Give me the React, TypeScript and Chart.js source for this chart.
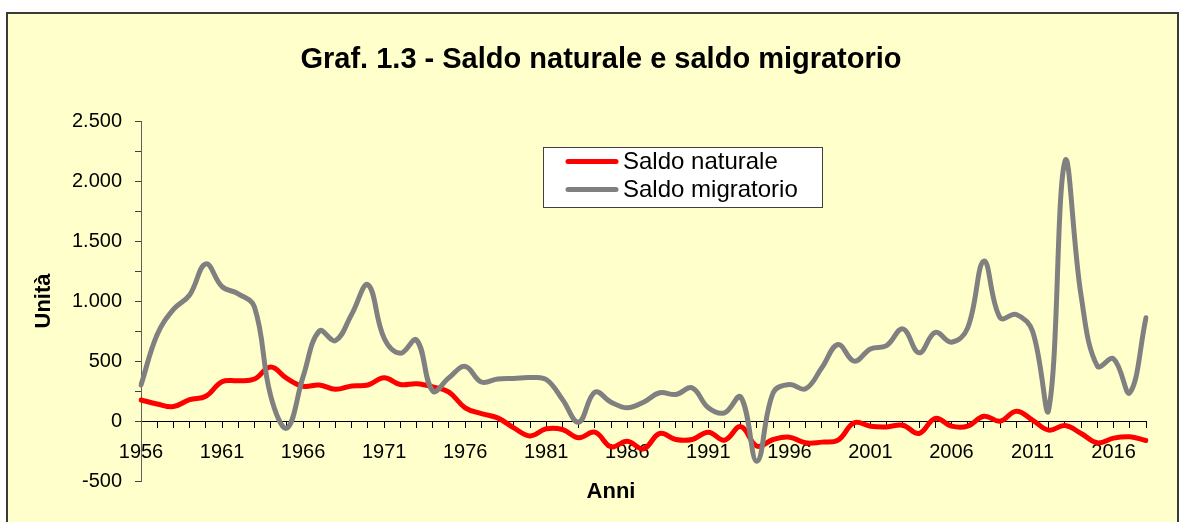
import React, { useEffect, useRef } from 'react';
import { Chart, registerables } from 'chart.js';

Chart.register(...registerables);

const FONT = 'Arial, "Liberation Sans", Helvetica, sans-serif';

const chartTitle = 'Graf. 1.3 - Saldo naturale e saldo migratorio';
const yAxisTitle = 'Unità';
const xAxisTitle = 'Anni';
const seriesNames = ['Saldo naturale', 'Saldo migratorio'];

const years = [
  '1956', '1957', '1958', '1959', '1960', '1961', '1962', '1963', '1964', '1965',
  '1966', '1967', '1968', '1969', '1970', '1971', '1972', '1973', '1974', '1975',
  '1976', '1977', '1978', '1979', '1980', '1981', '1982', '1983', '1984', '1985',
  '1986', '1987', '1988', '1989', '1990', '1991', '1992', '1993', '1994', '1995',
  '1996', '1997', '1998', '1999', '2000', '2001', '2002', '2003', '2004', '2005',
  '2006', '2007', '2008', '2009', '2010', '2011', '2012', '2013', '2014', '2015',
  '2016', '2017', '2018',
];

const saldoNaturale = [
  175, 142, 120, 178, 206, 328, 335, 350, 450, 355,
  290, 300, 264, 292, 300, 360, 304, 310, 285, 240,
  110, 62, 26, -57, -124, -65, -71, -140, -93, -215,
  -168, -232, -104, -154, -154, -93, -160, -47, -210, -154,
  -135, -182, -176, -160, -15, -43, -49, -35, -104, 22,
  -43, -43, 40, -1, 82, 7, -76, -38, -104, -182,
  -143, -132, -162,
];

const saldoMigratorio = [
  300, 720, 930, 1050, 1310, 1120, 1060, 950, 210, -60,
  370, 750, 670, 890, 1135, 690, 565, 675, 250, 360,
  455, 325, 350, 355, 362, 346, 179, -10, 240, 157,
  110, 157, 235, 221, 276, 110, 68, 200, -335, 235,
  304, 268, 443, 637, 499, 601, 629, 768, 568, 738,
  657, 776, 1332, 860, 888, 749, 96, 2165, 1040, 457,
  518, 235, 860,
];

const fmtIt = (v: number) => {
  const s = Math.abs(v).toString().replace(/\B(?=(\d{3})+(?!\d))/g, '.');
  return (v < 0 ? '-' : '') + s;
};

const framePlugin = {
  id: 'framePlugin',
  beforeDraw(chart: any) {
    const ctx = chart.ctx as CanvasRenderingContext2D;
    ctx.save();
    ctx.fillStyle = '#FFFFFF';
    ctx.fillRect(0, 0, chart.width, chart.height);
    ctx.fillStyle = '#FFFFCC';
    ctx.fillRect(7, 13, 1171, 530);
    ctx.strokeStyle = '#3A3A3A';
    ctx.lineWidth = 2;
    ctx.strokeRect(7, 13, 1171, 530);
    ctx.restore();
  },
};

const overlayPlugin = {
  id: 'overlayPlugin',
  afterDraw(chart: any) {
    const ctx = chart.ctx as CanvasRenderingContext2D;
    ctx.save();
    // title
    ctx.fillStyle = '#000';
    ctx.font = `bold 29px ${FONT}`;
    ctx.textAlign = 'center';
    ctx.textBaseline = 'middle';
    ctx.fillText(chartTitle, 601, 60);
    // x axis title
    ctx.font = `bold 22px ${FONT}`;
    ctx.fillText(xAxisTitle, 611, 492);
    // legend
    ctx.fillStyle = '#FFFFFF';
    ctx.fillRect(543, 147, 280, 61);
    ctx.strokeStyle = '#404040';
    ctx.lineWidth = 1;
    ctx.strokeRect(543.5, 147.5, 279, 60);
    const ds = chart.data.datasets;
    const rows = [161.5, 189.5];
    ds.forEach((d: any, i: number) => {
      ctx.strokeStyle = d.borderColor;
      ctx.lineWidth = 5;
      ctx.lineCap = 'round';
      ctx.beginPath();
      ctx.moveTo(568, rows[i]);
      ctx.lineTo(616, rows[i]);
      ctx.stroke();
      ctx.fillStyle = '#000';
      ctx.font = `24px ${FONT}`;
      ctx.textAlign = 'left';
      ctx.textBaseline = 'middle';
      ctx.fillText(d.label, 623, rows[i] + 1);
    });
    ctx.restore();
  },
};

export default function App() {
  const ref = useRef<HTMLCanvasElement>(null);
  useEffect(() => {
    const canvas = ref.current!;
    const chart = new Chart(canvas, {
      type: 'line',
      data: {
        labels: years,
        datasets: [
          {
            label: seriesNames[0],
            data: saldoNaturale,
            borderColor: '#FF0000',
            backgroundColor: '#FF0000',
            borderWidth: 5,
            pointRadius: 0,
            tension: 0.4,
            fill: false,
            order: 1,
            borderCapStyle: 'round',
            borderJoinStyle: 'round',
          },
          {
            label: seriesNames[1],
            data: saldoMigratorio,
            borderColor: '#808080',
            backgroundColor: '#808080',
            borderWidth: 5,
            pointRadius: 0,
            tension: 0.4,
            fill: false,
            order: 0,
            borderCapStyle: 'round',
            borderJoinStyle: 'round',
          },
        ],
      },
      options: {
        responsive: false,
        animation: false,
        devicePixelRatio: 1,
        layout: { padding: { left: 0, right: 35, top: 121, bottom: 41 } },
        plugins: {
          legend: { display: false },
          title: { display: false },
          tooltip: { enabled: false },
        },
        scales: {
          x: {
            type: 'category',
            position: { y: 0 },
            grid: { drawOnChartArea: false, drawTicks: true, tickLength: 6, tickColor: '#000', tickWidth: 1 },
            border: { display: true, color: '#000', width: 1 },
            ticks: {
              autoSkip: false,
              maxRotation: 0,
              minRotation: 0,
              padding: 13,
              color: '#000',
              font: { family: FONT, size: 20 },
              callback: (_v: any, i: number) => (i % 5 === 0 ? years[i] : ''),
            },
          },
          y: {
            type: 'linear',
            position: 'left',
            min: -500,
            max: 2500,
            afterFit: (s: any) => { s.width = 141; },
            grid: {
              drawOnChartArea: false,
              tickLength: 6,
              tickColor: (c: any) => (c.tick && c.tick.value === -250 ? 'rgba(0,0,0,0)' : '#404040'),
            },
            border: { display: true, color: '#606060', width: 1 },
            ticks: {
              stepSize: 250,
              padding: 13,
              color: '#000',
              font: { family: FONT, size: 20 },
              callback: (v: any) => (Number(v) % 500 === 0 ? fmtIt(Number(v)) : ''),
            },
            title: {
              display: true,
              text: yAxisTitle,
              color: '#000',
              font: { family: FONT, size: 22, weight: 'bold' },
              padding: { top: 31, bottom: 0 },
            },
          },
        },
      } as any,
      plugins: [framePlugin, overlayPlugin],
    });
    return () => chart.destroy();
  }, []);
  return (
    <div style={{ position: 'absolute', left: 0, top: 0, width: 1181, height: 522 }}>
      <canvas ref={ref} width={1181} height={522} style={{ display: 'block' }} />
    </div>
  );
}
